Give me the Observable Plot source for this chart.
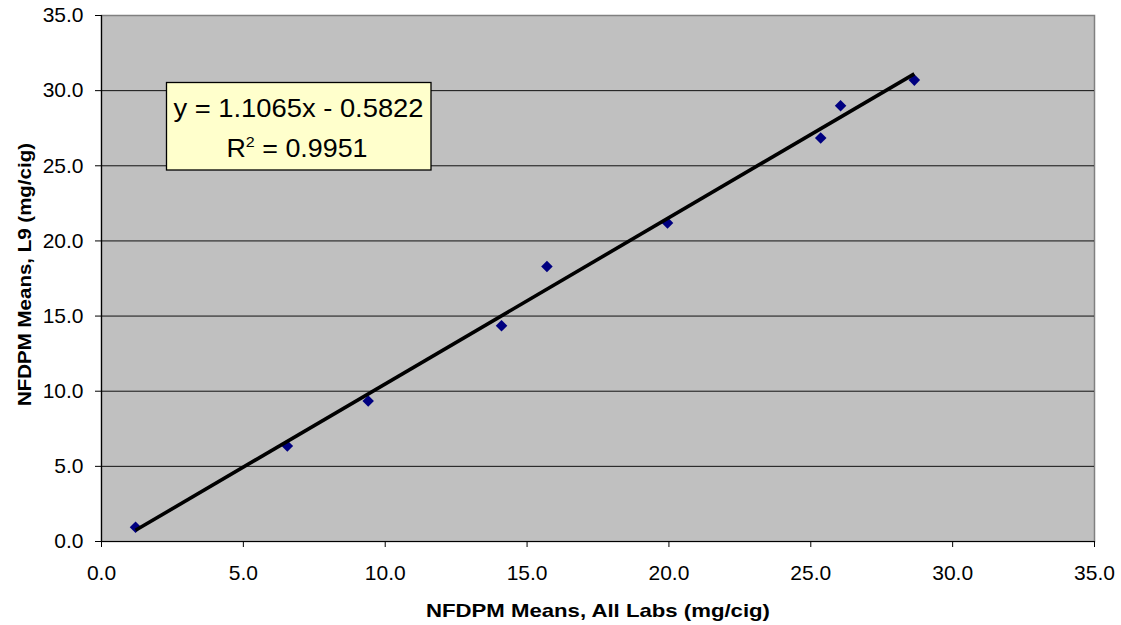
<!DOCTYPE html>
<html>
<head>
<meta charset="utf-8">
<script src="https://cdn.jsdelivr.net/npm/d3@7"></script>
<script src="https://cdn.jsdelivr.net/npm/@observablehq/plot@0.6"></script>
<style>
  html, body { margin: 0; padding: 0; background: #ffffff; }
  #chart { width: 1121px; height: 625px; }
</style>
</head>
<body>
<div id="chart"></div>
<script>
// ---- data ----
const allLabsMeans = [1.2, 6.55, 9.4, 14.1, 15.7, 19.95, 25.35, 26.05, 28.65];
const l9Means      = [0.95, 6.35, 9.35, 14.35, 18.3, 21.2, 26.85, 29.0, 30.7];
const trendSlope = [1.1065];
const trendIntercept = [-0.5822];
const rSquared = [0.9951];
const axisTicks = [0, 5, 10, 15, 20, 25, 30, 35];
const gridTicks = [5, 10, 15, 20, 25, 30];
const xTitle = "NFDPM Means, All Labs (mg/cig)";
const yTitle = "NFDPM Means, L9 (mg/cig)";

const points = allLabsMeans.map((x, i) => ({x, y: l9Means[i]}));
const xExtent = d3.extent(allLabsMeans);
const trend = xExtent.map(x => ({x, y: trendSlope[0] * x + trendIntercept[0]}));
const fmt = d3.format(".1f");

const font = "'Liberation Sans', Arial, Helvetica, sans-serif";

const plot = Plot.plot({
  width: 1121,
  height: 625,
  marginLeft: 101,
  marginRight: 27,
  marginTop: 15,
  marginBottom: 84,
  style: {background: "#ffffff", color: "#000000", fontFamily: font, fontSize: "21px", overflow: "visible"},
  x: {domain: [0, 35]},
  y: {domain: [0, 35]},
  marks: [
    Plot.frame({fill: "#C0C0C0", stroke: "#808080", strokeWidth: 1.5}),
    Plot.ruleY(gridTicks, {stroke: "#111111", strokeWidth: 1}),
    Plot.ruleX([0], {stroke: "#000000", strokeWidth: 1.2}),
    Plot.ruleY([0], {stroke: "#000000", strokeWidth: 1.2}),
    Plot.axisX({ticks: axisTicks, tickFormat: fmt, tickSize: 6, tickPadding: 18, label: null, stroke: "#000000", fontSize: 21}),
    Plot.axisY({ticks: axisTicks, tickFormat: fmt, tickSize: 6, tickPadding: 12, label: null, stroke: "#000000", fontSize: 21}),
    Plot.dot(points, {x: "x", y: "y", symbol: "diamond2", r: 5.2, fill: "#000080", stroke: "none"}),
    Plot.line(trend, {x: "x", y: "y", stroke: "#000000", strokeWidth: 3.6, strokeLinecap: "butt"}),
    Plot.text([xTitle], {frameAnchor: "bottom", dy: 69, textAnchor: "middle", lineAnchor: "middle", fontWeight: "bold", fontSize: 19, fill: "#000000"}),
    Plot.text([yTitle], {frameAnchor: "left", rotate: -90, dx: -77, dy: -4, textAnchor: "middle", lineAnchor: "middle", fontWeight: "bold", fontSize: 19, fill: "#000000"})
  ]
});

document.getElementById("chart").appendChild(plot);

const svg = d3.select(plot);
const tickStrings = axisTicks.map(fmt);
svg.selectAll("text").each(function() {
  const t = this.textContent;
  const sel = d3.select(this);
  if (tickStrings.includes(t)) {
    sel.attr("font-size", 21).style("font-size", "21px").style("font-family", font);
  }
  if (t === xTitle) sel.attr("textLength", 344).attr("lengthAdjust", "spacingAndGlyphs");
  if (t === yTitle) sel.attr("textLength", 263).attr("lengthAdjust", "spacingAndGlyphs");
});

// regression equation box
const note = svg.append("g").attr("font-family", font).attr("fill", "#000000");
note.append("rect")
  .attr("x", 166.5).attr("y", 82.5).attr("width", 264.5).attr("height", 87.5)
  .attr("fill", "#FFFFCC").attr("stroke", "#000000").attr("stroke-width", 1.3);
const sign = trendIntercept[0] < 0 ? "-" : "+";
note.append("text")
  .attr("x", 298.5).attr("y", 117).attr("text-anchor", "middle").attr("font-size", 25)
  .attr("textLength", 250).attr("lengthAdjust", "spacingAndGlyphs")
  .text(`y = ${trendSlope[0]}x ${sign} ${Math.abs(trendIntercept[0])}`);
const t2 = note.append("text")
  .attr("x", 297).attr("y", 157).attr("text-anchor", "middle").attr("font-size", 25)
  .attr("textLength", 141).attr("lengthAdjust", "spacingAndGlyphs");
t2.append("tspan").text("R");
t2.append("tspan").attr("font-size", 15).attr("dy", -10).text("2");
t2.append("tspan").attr("dy", 10).text(` = ${rSquared[0]}`);
</script>
</body>
</html>
